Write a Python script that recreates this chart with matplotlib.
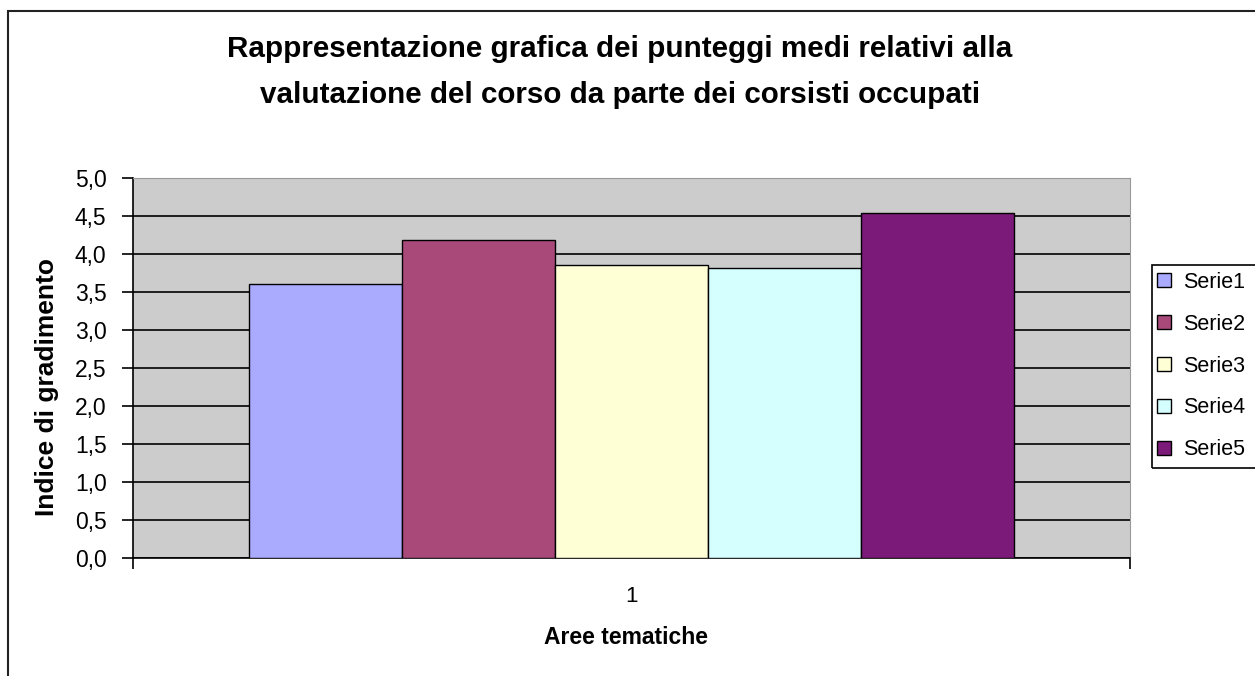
import matplotlib
matplotlib.use("Agg")
import matplotlib.pyplot as plt
from matplotlib.patches import Rectangle
from matplotlib.ticker import FuncFormatter

plt.rcParams['font.family'] = ['Liberation Sans', 'DejaVu Sans']

# data
series = ["Serie1", "Serie2", "Serie3", "Serie4", "Serie5"]
values = [3.61, 4.18, 3.86, 3.81, 4.54]
colors = ["#AAAAFF", "#A9497A", "#FFFFD5", "#D5FFFF", "#7B1A78"]
category = ["1"]

W, H = 1255, 676
fig = plt.figure(figsize=(W / 100, H / 100), dpi=100)
fig.patch.set_facecolor("white")

# outer chart border (runs off the right/bottom of the image)
fig.add_artist(Rectangle((8 / W, -0.05), 1.1, 1.05 - 11 / H, transform=fig.transFigure,
                         fill=False, edgecolor="#222222", linewidth=1.5))

ax = fig.add_axes([133 / W, (H - 558) / H, (1130 - 133) / W, (558 - 178) / H])
ax.set_facecolor("#CCCCCC")

bw = 153 / 997
for i, (name, v, c) in enumerate(zip(series, values, colors)):
    ax.bar((i - 2) * bw, v, width=bw, color=c, edgecolor="black", linewidth=1,
           label=name, zorder=3)

ax.set_xlim(-0.5, 0.5)
ax.set_ylim(0, 5)
ax.set_yticks([i * 0.5 for i in range(11)])
ax.yaxis.set_major_formatter(FuncFormatter(lambda v, p: f"{v:.1f}".replace(".", ",")))
ax.yaxis.grid(True, color="black", linewidth=1.2, zorder=1)
ax.set_axisbelow(True)

ax.set_xticks([-0.5, 0.5], minor=False)
ax.set_xticklabels(["", ""])
ax.set_xticks([0], minor=True)
ax.set_xticklabels(category, minor=True)
ax.tick_params(axis="x", which="minor", length=0, pad=20, labelsize=16)
ax.tick_params(axis="x", which="major", length=8, width=1.2, direction="out")
ax.tick_params(axis="y", length=8, width=1.2, direction="out", labelsize=16.5, pad=11)

for side in ["top", "right"]:
    ax.spines[side].set_color("#999999")
ax.spines["left"].set_linewidth(1.2)
ax.spines["bottom"].set_linewidth(1.2)

fig.text(620 / W, 1 - 72 / H,
         "Rappresentazione grafica dei punteggi medi relativi alla\n"
         "valutazione del corso da parte dei corsisti occupati",
         ha="center", va="center", fontsize=21.3, fontweight="bold", linespacing=1.8)
fig.text(626 / W, 1 - 637 / H, "Aree tematiche", ha="center", va="center",
         fontsize=16.5, fontweight="bold")
fig.text(47 / W, 1 - 387 / H, "Indice di gradimento", ha="center", va="center",
         rotation=90, fontsize=19, fontweight="bold")

# legend box runs off the right edge like in the original
fig.add_artist(Rectangle((1152 / W, 1 - 468 / H), 0.2, (468 - 265) / H,
                         transform=fig.transFigure, fill=False,
                         edgecolor="black", linewidth=1.2))
leg = fig.legend(loc="center left", bbox_to_anchor=(1157 / W, 1 - 366 / H),
                 fontsize=15.5, frameon=False, borderpad=0,
                 labelspacing=0.97, handlelength=0.65, handleheight=0.65,
                 handletextpad=0.55, borderaxespad=0)

fig.savefig("out.png", dpi=100)
